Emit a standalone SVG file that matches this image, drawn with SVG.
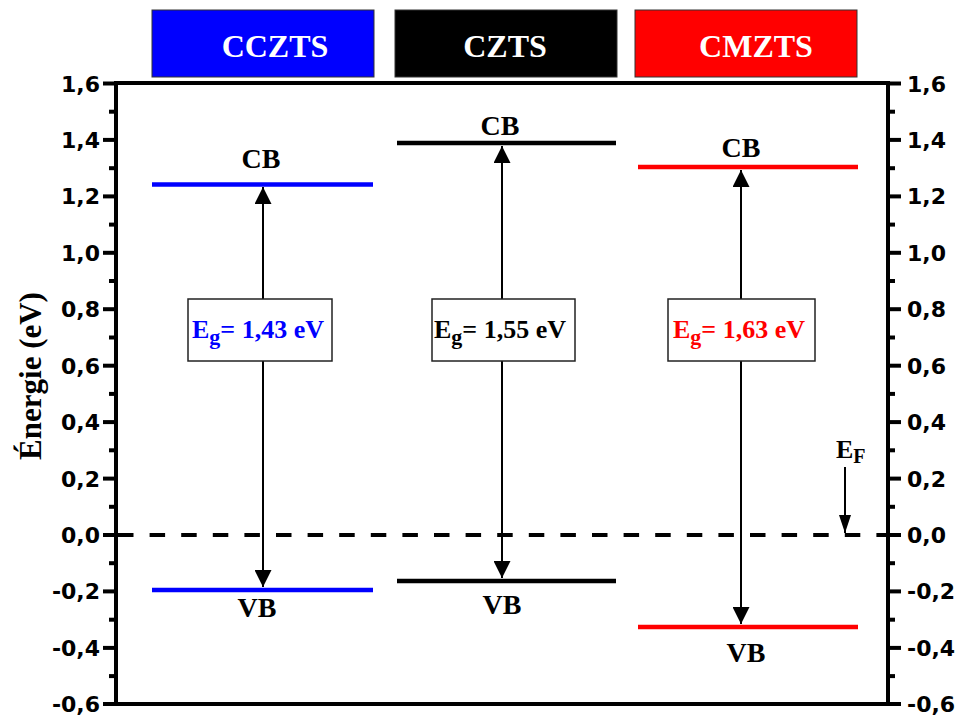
<svg xmlns="http://www.w3.org/2000/svg" width="958" height="716" viewBox="0 0 958 716">
<style>
.ax{stroke:#000;stroke-width:4;fill:none}
.tk{stroke:#000;stroke-width:4}
.lbl{font-family:"DejaVu Sans",sans-serif;font-weight:bold;font-size:22px;fill:#000}
.ser{font-family:"Liberation Serif","Times New Roman",serif;font-weight:bold}
.hdr{font-size:32px;fill:#fff}
.band{font-size:28px;fill:#000}
.eg{font-size:26px}
.arr{stroke:#000;stroke-width:2;fill:none}
.box{fill:#fff;stroke:#222;stroke-width:1.5}
.lev{stroke-width:4.5}
</style>
<defs>
<marker id="ah" viewBox="0 0 17 17" refX="17" refY="8.5" markerWidth="17" markerHeight="17" markerUnits="userSpaceOnUse" orient="auto-start-reverse">
<path d="M0,0 L17,8.5 L0,17 z" fill="#000"/>
</marker>
<marker id="ahs" viewBox="0 0 18 12" refX="18" refY="6" markerWidth="18" markerHeight="12" markerUnits="userSpaceOnUse" orient="auto">
<path d="M0,0 L18,6 L0,12 z" fill="#000"/>
</marker>
</defs>
<rect width="958" height="716" fill="#fff"/>

<g id="headers">
<g id="h-cczts"><rect x="152" y="10" width="222" height="67" fill="#0000ff" stroke="#333" stroke-width="1"/><text class="ser hdr" x="275" y="57" text-anchor="middle">CCZTS</text></g>
<g id="h-czts"><rect x="395" y="10" width="222" height="67" fill="#000" stroke="#333" stroke-width="1"/><text class="ser hdr" x="505" y="57" text-anchor="middle">CZTS</text></g>
<g id="h-cmzts"><rect x="635" y="10" width="222" height="67" fill="#ff0000" stroke="#333" stroke-width="1"/><text class="ser hdr" x="756" y="57" text-anchor="middle">CMZTS</text></g>
</g>

<g id="axes">
<rect class="ax" x="116" y="83" width="772" height="621"/>
<g id="ticks-left">
<line class="tk" x1="103" y1="83.5" x2="116" y2="83.5"/>
<line class="tk" x1="103" y1="139.9" x2="116" y2="139.9"/>
<line class="tk" x1="103" y1="196.4" x2="116" y2="196.4"/>
<line class="tk" x1="103" y1="252.8" x2="116" y2="252.8"/>
<line class="tk" x1="103" y1="309.2" x2="116" y2="309.2"/>
<line class="tk" x1="103" y1="365.7" x2="116" y2="365.7"/>
<line class="tk" x1="103" y1="422.1" x2="116" y2="422.1"/>
<line class="tk" x1="103" y1="478.6" x2="116" y2="478.6"/>
<line class="tk" x1="103" y1="535" x2="116" y2="535"/>
<line class="tk" x1="103" y1="591.4" x2="116" y2="591.4"/>
<line class="tk" x1="103" y1="647.9" x2="116" y2="647.9"/>
<line class="tk" x1="103" y1="704" x2="116" y2="704"/>
<line class="tk" x1="109" y1="111.7" x2="116" y2="111.7"/>
<line class="tk" x1="109" y1="168.2" x2="116" y2="168.2"/>
<line class="tk" x1="109" y1="224.6" x2="116" y2="224.6"/>
<line class="tk" x1="109" y1="281" x2="116" y2="281"/>
<line class="tk" x1="109" y1="337.5" x2="116" y2="337.5"/>
<line class="tk" x1="109" y1="393.9" x2="116" y2="393.9"/>
<line class="tk" x1="109" y1="450.3" x2="116" y2="450.3"/>
<line class="tk" x1="109" y1="506.8" x2="116" y2="506.8"/>
<line class="tk" x1="109" y1="563.2" x2="116" y2="563.2"/>
<line class="tk" x1="109" y1="619.7" x2="116" y2="619.7"/>
<line class="tk" x1="109" y1="676.1" x2="116" y2="676.1"/>
</g>
<g id="ticks-right">
<line class="tk" x1="888" y1="83.5" x2="901" y2="83.5"/>
<line class="tk" x1="888" y1="139.9" x2="901" y2="139.9"/>
<line class="tk" x1="888" y1="196.4" x2="901" y2="196.4"/>
<line class="tk" x1="888" y1="252.8" x2="901" y2="252.8"/>
<line class="tk" x1="888" y1="309.2" x2="901" y2="309.2"/>
<line class="tk" x1="888" y1="365.7" x2="901" y2="365.7"/>
<line class="tk" x1="888" y1="422.1" x2="901" y2="422.1"/>
<line class="tk" x1="888" y1="478.6" x2="901" y2="478.6"/>
<line class="tk" x1="888" y1="535" x2="901" y2="535"/>
<line class="tk" x1="888" y1="591.4" x2="901" y2="591.4"/>
<line class="tk" x1="888" y1="647.9" x2="901" y2="647.9"/>
<line class="tk" x1="888" y1="704" x2="901" y2="704"/>
<line class="tk" x1="888" y1="111.7" x2="895" y2="111.7"/>
<line class="tk" x1="888" y1="168.2" x2="895" y2="168.2"/>
<line class="tk" x1="888" y1="224.6" x2="895" y2="224.6"/>
<line class="tk" x1="888" y1="281" x2="895" y2="281"/>
<line class="tk" x1="888" y1="337.5" x2="895" y2="337.5"/>
<line class="tk" x1="888" y1="393.9" x2="895" y2="393.9"/>
<line class="tk" x1="888" y1="450.3" x2="895" y2="450.3"/>
<line class="tk" x1="888" y1="506.8" x2="895" y2="506.8"/>
<line class="tk" x1="888" y1="563.2" x2="895" y2="563.2"/>
<line class="tk" x1="888" y1="619.7" x2="895" y2="619.7"/>
<line class="tk" x1="888" y1="676.1" x2="895" y2="676.1"/>
</g>
<g id="labels-left" text-anchor="end">
<text class="lbl" x="100" y="91.5">1,6</text>
<text class="lbl" x="100" y="147.9">1,4</text>
<text class="lbl" x="100" y="204.4">1,2</text>
<text class="lbl" x="100" y="260.8">1,0</text>
<text class="lbl" x="100" y="317.2">0,8</text>
<text class="lbl" x="100" y="373.7">0,6</text>
<text class="lbl" x="100" y="430.1">0,4</text>
<text class="lbl" x="100" y="486.6">0,2</text>
<text class="lbl" x="100" y="543">0,0</text>
<text class="lbl" x="100" y="599.4">-0,2</text>
<text class="lbl" x="100" y="655.9">-0,4</text>
<text class="lbl" x="100" y="712">-0,6</text>
</g>
<g id="labels-right">
<text class="lbl" x="907" y="91.5">1,6</text>
<text class="lbl" x="907" y="147.9">1,4</text>
<text class="lbl" x="907" y="204.4">1,2</text>
<text class="lbl" x="907" y="260.8">1,0</text>
<text class="lbl" x="907" y="317.2">0,8</text>
<text class="lbl" x="907" y="373.7">0,6</text>
<text class="lbl" x="907" y="430.1">0,4</text>
<text class="lbl" x="907" y="486.6">0,2</text>
<text class="lbl" x="907" y="543">0,0</text>
<text class="lbl" x="907" y="599.4">-0,2</text>
<text class="lbl" x="907" y="655.9">-0,4</text>
<text class="lbl" x="907" y="712">-0,6</text>
</g>
<text class="ser" font-size="31" x="41" y="376" text-anchor="middle" transform="rotate(-90 41 376)">Énergie (eV)</text>
</g>

<line id="fermi-level" x1="118" y1="535" x2="886" y2="535" stroke="#000" stroke-width="4" stroke-dasharray="15.5 16.1"/>

<g id="connectors">
<line class="arr" x1="263" y1="187" x2="263" y2="587" marker-start="url(#ah)" marker-end="url(#ah)"/>
<line class="arr" x1="502" y1="146" x2="502" y2="578" marker-start="url(#ah)" marker-end="url(#ah)"/>
<line class="arr" x1="741" y1="170" x2="741" y2="624" marker-start="url(#ah)" marker-end="url(#ah)"/>
<line class="arr" x1="845" y1="467" x2="845" y2="533" marker-end="url(#ahs)"/>
</g>

<g id="cczts">
<line class="lev" x1="152" y1="184.5" x2="373" y2="184.5" stroke="#0000ff"/>
<line class="lev" x1="152" y1="590" x2="373" y2="590" stroke="#0000ff"/>
<text class="ser band" x="261" y="168" text-anchor="middle">CB</text>
<text class="ser band" x="257" y="617" text-anchor="middle">VB</text>
<rect class="box" x="188" y="299" width="144" height="62"/>
<text class="ser eg" x="258" y="338" text-anchor="middle" fill="#0000ff">E<tspan font-size="22" dy="6">g</tspan><tspan dy="-6">= 1,43 eV</tspan></text>
</g>
<g id="czts">
<line class="lev" x1="397" y1="143" x2="616" y2="143" stroke="#000"/>
<line class="lev" x1="397" y1="581" x2="616" y2="581" stroke="#000"/>
<text class="ser band" x="500" y="135" text-anchor="middle">CB</text>
<text class="ser band" x="502" y="614" text-anchor="middle">VB</text>
<rect class="box" x="432" y="299" width="143" height="62"/>
<text class="ser eg" x="500" y="338" text-anchor="middle" fill="#000">E<tspan font-size="22" dy="6">g</tspan><tspan dy="-6">= 1,55 eV</tspan></text>
</g>
<g id="cmzts">
<line class="lev" x1="638" y1="167" x2="858" y2="167" stroke="#ff0000"/>
<line class="lev" x1="638" y1="627" x2="858" y2="627" stroke="#ff0000"/>
<text class="ser band" x="741" y="157" text-anchor="middle">CB</text>
<text class="ser band" x="746" y="662" text-anchor="middle">VB</text>
<rect class="box" x="668" y="299" width="147" height="62"/>
<text class="ser eg" x="739" y="338" text-anchor="middle" fill="#ff0000">E<tspan font-size="22" dy="6">g</tspan><tspan dy="-6">= 1,63 eV</tspan></text>
</g>
<g id="ef-label">
<text class="ser" font-size="26" x="836" y="458" fill="#000">E<tspan font-size="20" dy="5">F</tspan></text>
</g>
</svg>
